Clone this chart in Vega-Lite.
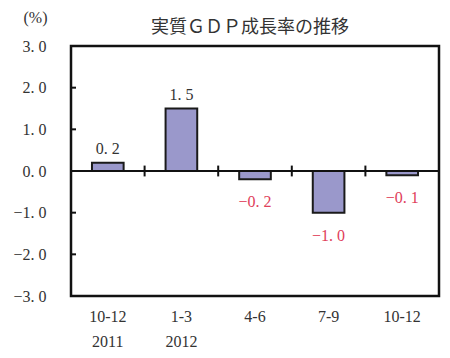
{
  "$schema": "https://vega.github.io/schema/vega-lite/v6.json",
  "width": 368,
  "height": 250,
  "autosize": {"type": "none"},
  "padding": {"left": 71, "top": 46, "right": 11, "bottom": 62},
  "background": "white",
  "config": {
    "font": "Liberation Serif, Noto Sans CJK JP",
    "view": {"stroke": "#111", "strokeWidth": 2.5},
    "axis": {"grid": false, "labelFont": "Liberation Serif, Noto Sans CJK JP", "titleFont": "Liberation Serif, Noto Sans CJK JP"}
  },
  "title": {
    "text": "実質ＧＤＰ成長率の推移",
    "font": "Noto Sans CJK JP",
    "fontSize": 18,
    "fontWeight": "normal",
    "color": "#333",
    "anchor": "middle",
    "offset": -28,
    "dx": -5
  },
  "datasets": {
    "gdp": [
      {"q": "10-12|2011", "v": 0.2},
      {"q": "1-3|2012", "v": 1.5},
      {"q": "4-6", "v": -0.2},
      {"q": "7-9", "v": -1.0},
      {"q": "10-12", "v": -0.1}
    ],
    "yticks": [
      {"q": "10-12|2011", "t": -2},
      {"q": "10-12|2011", "t": -1},
      {"q": "10-12|2011", "t": 1},
      {"q": "10-12|2011", "t": 2}
    ]
  },
  "data": {"name": "gdp"},
  "resolve": {"axis": {"x": "independent", "y": "independent"}},
  "layer": [
    {
      "mark": {"type": "bar", "width": {"band": 0.43}, "fill": "#9a98cb", "stroke": "#1a1a1a", "strokeWidth": 2},
      "encoding": {
        "x": {
          "field": "q", "type": "nominal", "sort": null,
          "scale": {"paddingInner": 0, "paddingOuter": 0},
          "axis": {
            "orient": "bottom", "title": null, "labelAngle": 0, "domain": false, "ticks": false,
            "labelExpr": "split(datum.value, '|')", "labelPadding": 12, "labelFontSize": 16,
            "labelLineHeight": 25, "labelColor": "#333", "labelBaseline": "top"
          }
        },
        "y": {
          "field": "v", "type": "quantitative",
          "scale": {"domain": [-3, 3], "nice": false},
          "axis": {
            "values": [-3, -2, -1, 0, 1, 2, 3],
            "labelExpr": "replace(format(datum.value, '.1f'), '.', '. ')",
            "labelFontSize": 16, "labelColor": "#333", "labelPadding": 25,
            "domain": false, "ticks": false,
            "title": "(%)", "titleAngle": 0, "titleX": -36, "titleY": -29,
            "titleAlign": "center", "titleBaseline": "middle", "titleFontSize": 16,
            "titleFontWeight": "normal", "titleColor": "#333"
          }
        }
      }
    },
    {
      "data": {"values": [{}]},
      "mark": {"type": "rule", "stroke": "#111", "strokeWidth": 2},
      "encoding": {"y": {"datum": 0, "axis": null}}
    },
    {
      "data": {"name": "yticks"},
      "mark": {"type": "rule", "stroke": "#111", "strokeWidth": 2, "x2Offset": 5},
      "encoding": {
        "x": {"field": "q", "type": "nominal", "sort": null, "bandPosition": 0, "axis": null},
        "x2": {"field": "q", "bandPosition": 0},
        "y": {"field": "t", "type": "quantitative", "axis": null}
      }
    },
    {
      "transform": [{"filter": "datum.q != '10-12|2011'"}],
      "mark": {"type": "rule", "stroke": "#111", "strokeWidth": 2},
      "encoding": {
        "x": {"field": "q", "type": "nominal", "sort": null, "bandPosition": 0, "axis": null},
        "y": {"datum": -0.13, "axis": null},
        "y2": {"datum": 0.13}
      }
    },
    {
      "transform": [
        {"filter": "datum.v >= 0"},
        {"calculate": "replace(format(datum.v, '.1f'), '.', '. ')", "as": "lab"}
      ],
      "mark": {"type": "text", "baseline": "bottom", "dy": -6, "fontSize": 16, "color": "#333"},
      "encoding": {
        "x": {"field": "q", "type": "nominal", "sort": null, "axis": null},
        "y": {"field": "v", "type": "quantitative", "axis": null},
        "text": {"field": "lab"}
      }
    },
    {
      "transform": [
        {"filter": "datum.v < 0"},
        {"calculate": "replace(format(datum.v, '.1f'), '.', '. ')", "as": "lab"}
      ],
      "mark": {"type": "text", "baseline": "top", "dy": 15, "fontSize": 16, "color": "#e0405a"},
      "encoding": {
        "x": {"field": "q", "type": "nominal", "sort": null, "axis": null},
        "y": {"field": "v", "type": "quantitative", "axis": null},
        "text": {"field": "lab"}
      }
    }
  ]
}
